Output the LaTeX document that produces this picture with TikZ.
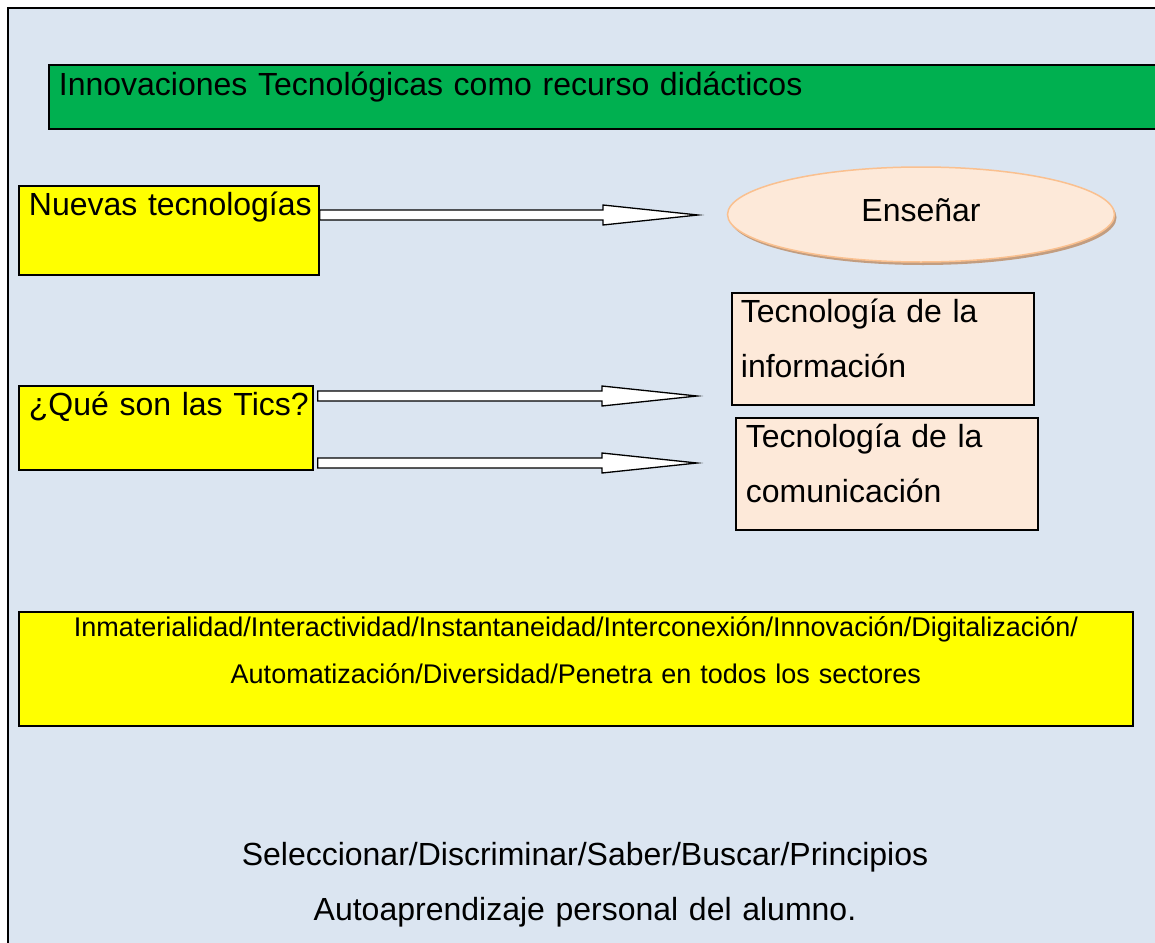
\documentclass[tikz,border=0pt]{standalone}
\usepackage{fontspec}
\setmainfont{Liberation Sans}
\usetikzlibrary{calc}
\usetikzlibrary{shapes.geometric}
\usetikzlibrary{shadows}
\definecolor{fondoazul}{HTML}{DBE5F1}
\definecolor{verdetitulo}{HTML}{00B050}
\definecolor{amarillo}{HTML}{FFFF00}
\definecolor{melocoton}{HTML}{FDE9D9}
\definecolor{bordenaranja}{HTML}{FAC08F}
\definecolor{sombra}{HTML}{C29D80}
\newcommand{\textogrande}{\fontsize{32}{55}\selectfont}
\newcommand{\textochico}{\fontsize{27}{47}\selectfont}
\newcommand{\flechabloque}[2]{%
  \draw[flecha] let \p1=(#1), \p2=(#2) in
    (\x1,\y1+5pt) -- (\x2-95pt,\y1+5pt) -- (\x2-95pt,\y1+10pt) -- (\x2,\y1)
    -- (\x2-95pt,\y1-10pt) -- (\x2-95pt,\y1-5pt) -- (\x1,\y1-5pt) -- cycle;}
\tikzset{
  caja/.style={draw, line width=1.8pt, anchor=north west, inner xsep=10pt,
    inner ysep=0pt, align=left, font=\textogrande},
  amarilla/.style={caja, fill=amarillo},
  rosada/.style={caja, fill=melocoton, text height=30pt, text depth=82pt},
  flecha/.style={draw=black, line width=1.3pt, fill=white},
}
\begin{document}
\begin{tikzpicture}[x=1pt, y=-1pt]
  \clip (0,0) rectangle (1155,942);
  \draw[line width=2.5pt, fill=fondoazul] (8,8) rectangle (1175,960);

  \node (titulo) [caja, fill=verdetitulo, text width=1110pt, text height=31pt,
    text depth=33pt] at (48,64) {Innovaciones Tecnológicas como recurso didácticos};

  \node (nuevas) [amarilla, text width=280pt, text height=30pt, text depth=59pt]
    at (18,185) {\mbox{Nuevas tecnologías}};
  \node (tics) [amarilla, text width=274pt, text height=30pt, text depth=54pt]
    at (18,385) {\mbox{¿Qué son las Tics?}};

  \node (ensenar) [ellipse, draw=bordenaranja, line width=1.5pt, fill=melocoton,
    drop shadow={shadow xshift=2pt, shadow yshift=-3pt, fill=sombra, opacity=1},
    minimum width=387pt, minimum height=95pt, inner sep=0pt, text height=22pt,
    text depth=8pt, font=\textogrande] at (921,214.5) {Enseñar};

  \node (info) [rosada, inner xsep=9pt, text width=284pt] at (731,292)
    {Tecnología de la\\información};
  \node (comu) [rosada, text width=282pt] at (735,417)
    {Tecnología de la\\comunicación};

  \node (rasgos) [amarilla, align=center, text width=1094pt, text height=25pt,
    text depth=89pt, font=\textochico] at (18,611)
    {Inmaterialidad/Interactividad/Instantaneidad/Interconexión/Innovación/Digitalización/\\
     Automatización/Diversidad/Penetra en todos los sectores};

  \node (alumno) [anchor=base, align=center, text width=900pt, inner sep=0pt,
    font=\textogrande] at (585,865)
    {Seleccionar/Discriminar/Saber/Buscar/Principios\\
     Autoaprendizaje personal del alumno.};

  % flechas
  \coordinate (puntaA) at (698,215);
  \coordinate (puntaB) at (697,396);
  \coordinate (puntaC) at (697,463);
  \flechabloque{nuevas.east |- puntaA}{puntaA}
  \flechabloque{$(tics.east |- puntaB)+(4,0)$}{puntaB}
  \flechabloque{$(tics.east |- puntaC)+(4,0)$}{puntaC}
\end{tikzpicture}
\end{document}
